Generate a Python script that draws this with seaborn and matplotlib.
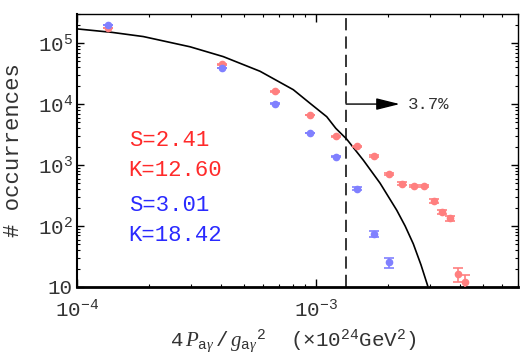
"""Histogram of 4P/g^2 for two samples with a fitted curve (log-log)."""

import matplotlib

matplotlib.use("Agg")

import matplotlib.pyplot as plt
import seaborn as sns
from matplotlib.ticker import NullFormatter

# bin centres (x10^24 GeV^2) and counts
bin_centers = [1.35e-4, 4.05e-4, 6.75e-4, 9.45e-4, 1.215e-3, 1.485e-3, 1.755e-3, 2.025e-3,
               2.295e-3, 2.565e-3, 2.835e-3, 3.105e-3, 3.375e-3, 3.645e-3, 3.915e-3, 4.185e-3]
red_counts = [1.78e5, 4.47e4, 1.61e4, 6.6e3, 2.99e3, 2.03e3, 1.41e3, 726,
              498, 455, 455, 258, 169, 135, 16.3, 12.2]
red_err = [420, 210, 127, 81, 55, 45, 38, 27, 22, 21, 21, 16, 13, 12, 4.0, 3.5]
blue_counts = [2.01e5, 3.95e4, 1.02e4, 3.35e3, 1.38e3, 412, 74.5, 25.4]
blue_err = [450, 200, 100, 58, 37, 20, 8.6, 5.0]

# model curve
curve_x = [1.0e-4, 1.4e-4, 1.894e-4, 2.971e-4, 4.093e-4, 5.832e-4, 8.035e-4, 9.438e-4,
           1.109e-3, 1.21e-3, 1.345e-3, 1.578e-3, 1.853e-3, 2.176e-3, 2.36e-3,
           2.553e-3, 2.75e-3, 2.934e-3]
curve_y = [1.71e5, 1.50e5, 1.28e5, 8.7e4, 6.0e4, 3.45e4, 1.72e4, 1.03e4,
           6.2e3, 4.0e3, 2.65e3, 1.2e3, 505, 182, 100,
           51, 23, 10.4]

cut_x = 1.336e-3
arrow_end_x = 2.24e-3
arrow_y = 1.0e4
tail_label = "3.7%"

red_stats = ["S=2.41", "K=12.60"]
blue_stats = ["S=3.01", "K=18.42"]

xticks = [1e-4, 1e-3]
xticklabels = [r"$\mathdefault{10^{-4}}$", r"$\mathdefault{10^{-3}}$"]
yticks = [10, 1e2, 1e3, 1e4, 1e5]
yticklabels = ["10", r"$\mathdefault{10^{2}}$", r"$\mathdefault{10^{3}}$",
               r"$\mathdefault{10^{4}}$", r"$\mathdefault{10^{5}}$"]

RED_PT = "#ff7f7f"
BLUE_PT = "#8080ff"
RED_TXT = "#ff2a2a"
BLUE_TXT = "#2a2aff"

sns.set_theme(style="ticks")
plt.rcParams["font.family"] = ["Liberation Mono", "DejaVu Sans"]
plt.rcParams["mathtext.fontset"] = "custom"
plt.rcParams["mathtext.rm"] = "Liberation Mono"
plt.rcParams["mathtext.it"] = "Liberation Serif:italic"

fig = plt.figure(figsize=(5.25, 3.56), dpi=100)
ax = fig.add_axes([77 / 525, 69 / 356, 441 / 525, 273 / 356])

sns.lineplot(x=curve_x, y=curve_y, ax=ax, color="black", linewidth=1.2, sort=False)

ax.errorbar(bin_centers, red_counts, yerr=red_err, fmt="o", color=RED_PT, ms=4.5,
            elinewidth=1.2, capsize=3.5, capthick=1.2, zorder=3)
ax.errorbar(bin_centers[:len(blue_counts)], blue_counts, yerr=blue_err, fmt="o",
            color=BLUE_PT, ms=4.5, elinewidth=1.2, capsize=3.5, capthick=1.2, zorder=3)

ax.axvline(cut_x, color="black", linewidth=1.1, linestyle=(0, (8, 4)))
ax.annotate("", xy=(arrow_end_x, arrow_y), xytext=(cut_x, arrow_y),
            arrowprops=dict(arrowstyle="-|>,head_length=1.2,head_width=0.3",
                            color="black", lw=1.0, shrinkA=0, shrinkB=0))
ax.text(arrow_end_x * 1.08, arrow_y, tail_label, fontsize=12.5, va="center", ha="left",
        color="#333333")

for i, s in enumerate(red_stats):
    ax.text(0.117, 0.535 - i * 0.11, s, transform=ax.transAxes, color=RED_TXT,
            fontsize=16, va="center", ha="left")
for i, s in enumerate(blue_stats):
    ax.text(0.117, 0.300 - i * 0.11, s, transform=ax.transAxes, color=BLUE_TXT,
            fontsize=16, va="center", ha="left")

ax.set_xscale("log")
ax.set_yscale("log")
ax.set_xlim(1e-4, 7e-3)
ax.set_ylim(10, 3e5)
ax.set_xticks(xticks)
ax.set_xticklabels(xticklabels)
ax.set_yticks(yticks)
ax.set_yticklabels(yticklabels)
ax.xaxis.set_minor_formatter(NullFormatter())
ax.yaxis.set_minor_formatter(NullFormatter())
ax.tick_params(which="both", direction="in", top=True, right=True, colors="black",
               labelsize=15, labelcolor="#333333")
ax.tick_params(which="major", length=5, width=1)
ax.tick_params(which="minor", length=2.5, width=0.8)
ax.tick_params(axis="x", which="major", length=6, pad=8)
ax.tick_params(axis="y", which="major", pad=3)

for side, sp in ax.spines.items():
    sp.set_color("black")
    sp.set_linewidth(1.0)
ax.spines["bottom"].set_linewidth(2.0)
ax.spines["left"].set_linewidth(1.5)

ax.set_ylabel("# occurrences", fontsize=16, color="#333333")
ax.yaxis.set_label_coords(-0.12, 0.5)
ax.set_xlabel(r"$4\,P_{\mathrm{a}\gamma}\,/\,g_{\mathrm{a}\gamma}{}^{2}$  "
              r"(×10$^{\mathdefault{24}}$GeV$^{\mathdefault{2}}$)",
              fontsize=15, color="#333333")
ax.xaxis.set_label_coords(0.49, -0.15)

fig.savefig("out.png", dpi=100)
